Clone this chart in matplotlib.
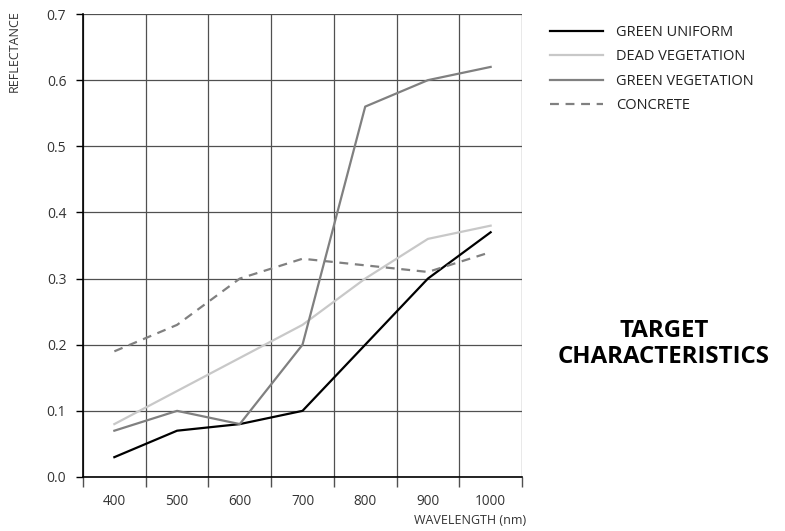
import matplotlib

matplotlib.use("Agg")
import matplotlib.pyplot as plt
from matplotlib.ticker import FixedLocator

plt.rcParams["font.family"] = ["Open Sans", "DejaVu Sans"]

# Reflectance per wavelength
wavelength = [400, 500, 600, 700, 800, 900, 1000]
green_uniform = [0.03, 0.07, 0.08, 0.10, 0.20, 0.30, 0.37]
dead_vegetation = [0.08, 0.13, 0.18, 0.23, 0.30, 0.36, 0.38]
green_vegetation = [0.07, 0.10, 0.08, 0.20, 0.56, 0.60, 0.62]
concrete = [0.19, 0.23, 0.30, 0.33, 0.32, 0.31, 0.34]

grid_x = [350, 450, 550, 650, 750, 850, 950, 1050]
y_ticks = [0.0, 0.1, 0.2, 0.3, 0.4, 0.5, 0.6, 0.7]

fig = plt.figure(figsize=(7.85, 5.31), dpi=100)
ax = fig.add_axes([83 / 785, 54 / 531, 439 / 785, 463 / 531])

ax.plot(wavelength, green_uniform, color="black", lw=1.6, label="GREEN UNIFORM")
ax.plot(wavelength, dead_vegetation, color="#c8c8c8", lw=1.6, label="DEAD VEGETATION")
ax.plot(wavelength, green_vegetation, color="#808080", lw=1.6, label="GREEN VEGETATION")
ax.plot(wavelength, concrete, color="#808080", lw=1.6, ls=(0, (4, 3)), label="CONCRETE")

ax.set_xlim(350, 1050)
ax.set_ylim(0, 0.7)

# vertical grid between the labelled wavelengths, labels on minor ticks
ax.xaxis.set_major_locator(FixedLocator(grid_x))
ax.xaxis.set_minor_locator(FixedLocator(wavelength))
ax.set_xticklabels([])
ax.set_xticklabels([str(w) for w in wavelength], minor=True)
ax.tick_params(axis="x", which="major", length=7, width=1, color="#505050")
ax.tick_params(axis="x", which="minor", length=0, pad=12, labelsize=9.8, labelcolor="#333333")

ax.set_yticks(y_ticks)
ax.set_yticklabels([f"{v:.1f}" for v in y_ticks])
ax.tick_params(axis="y", length=5, width=1, color="black", labelsize=10, labelcolor="#333333", pad=7)

ax.grid(True, which="major", color="#505050", lw=0.9)
ax.set_axisbelow(True)
for side in ["top", "right"]:
    ax.spines[side].set_visible(False)
ax.spines["left"].set_color("black")
ax.spines["bottom"].set_color("black")
ax.spines["left"].set_linewidth(1.2)
ax.spines["bottom"].set_linewidth(1.2)

fig.text(14 / 785, 1 - 10 / 531, "REFLECTANCE", rotation=90, ha="center", va="top",
         fontsize=9, color="#333333")
fig.text(526 / 785, 1 - 521 / 531, "WAVELENGTH (nm)", ha="right", va="center",
         fontsize=9, color="#333333")

fig.legend(loc="upper left", bbox_to_anchor=(537 / 785, 1 - 12 / 531), frameon=False,
           fontsize=10.5, handlelength=3.6, handletextpad=0.9, labelspacing=0.64,
           labelcolor="#222222")

fig.text(664 / 785, 1 - 344 / 531, "TARGET\nCHARACTERISTICS", ha="center", va="center",
         fontsize=17.3, fontweight="bold", linespacing=1.08)

fig.savefig("out.png", dpi=100)
